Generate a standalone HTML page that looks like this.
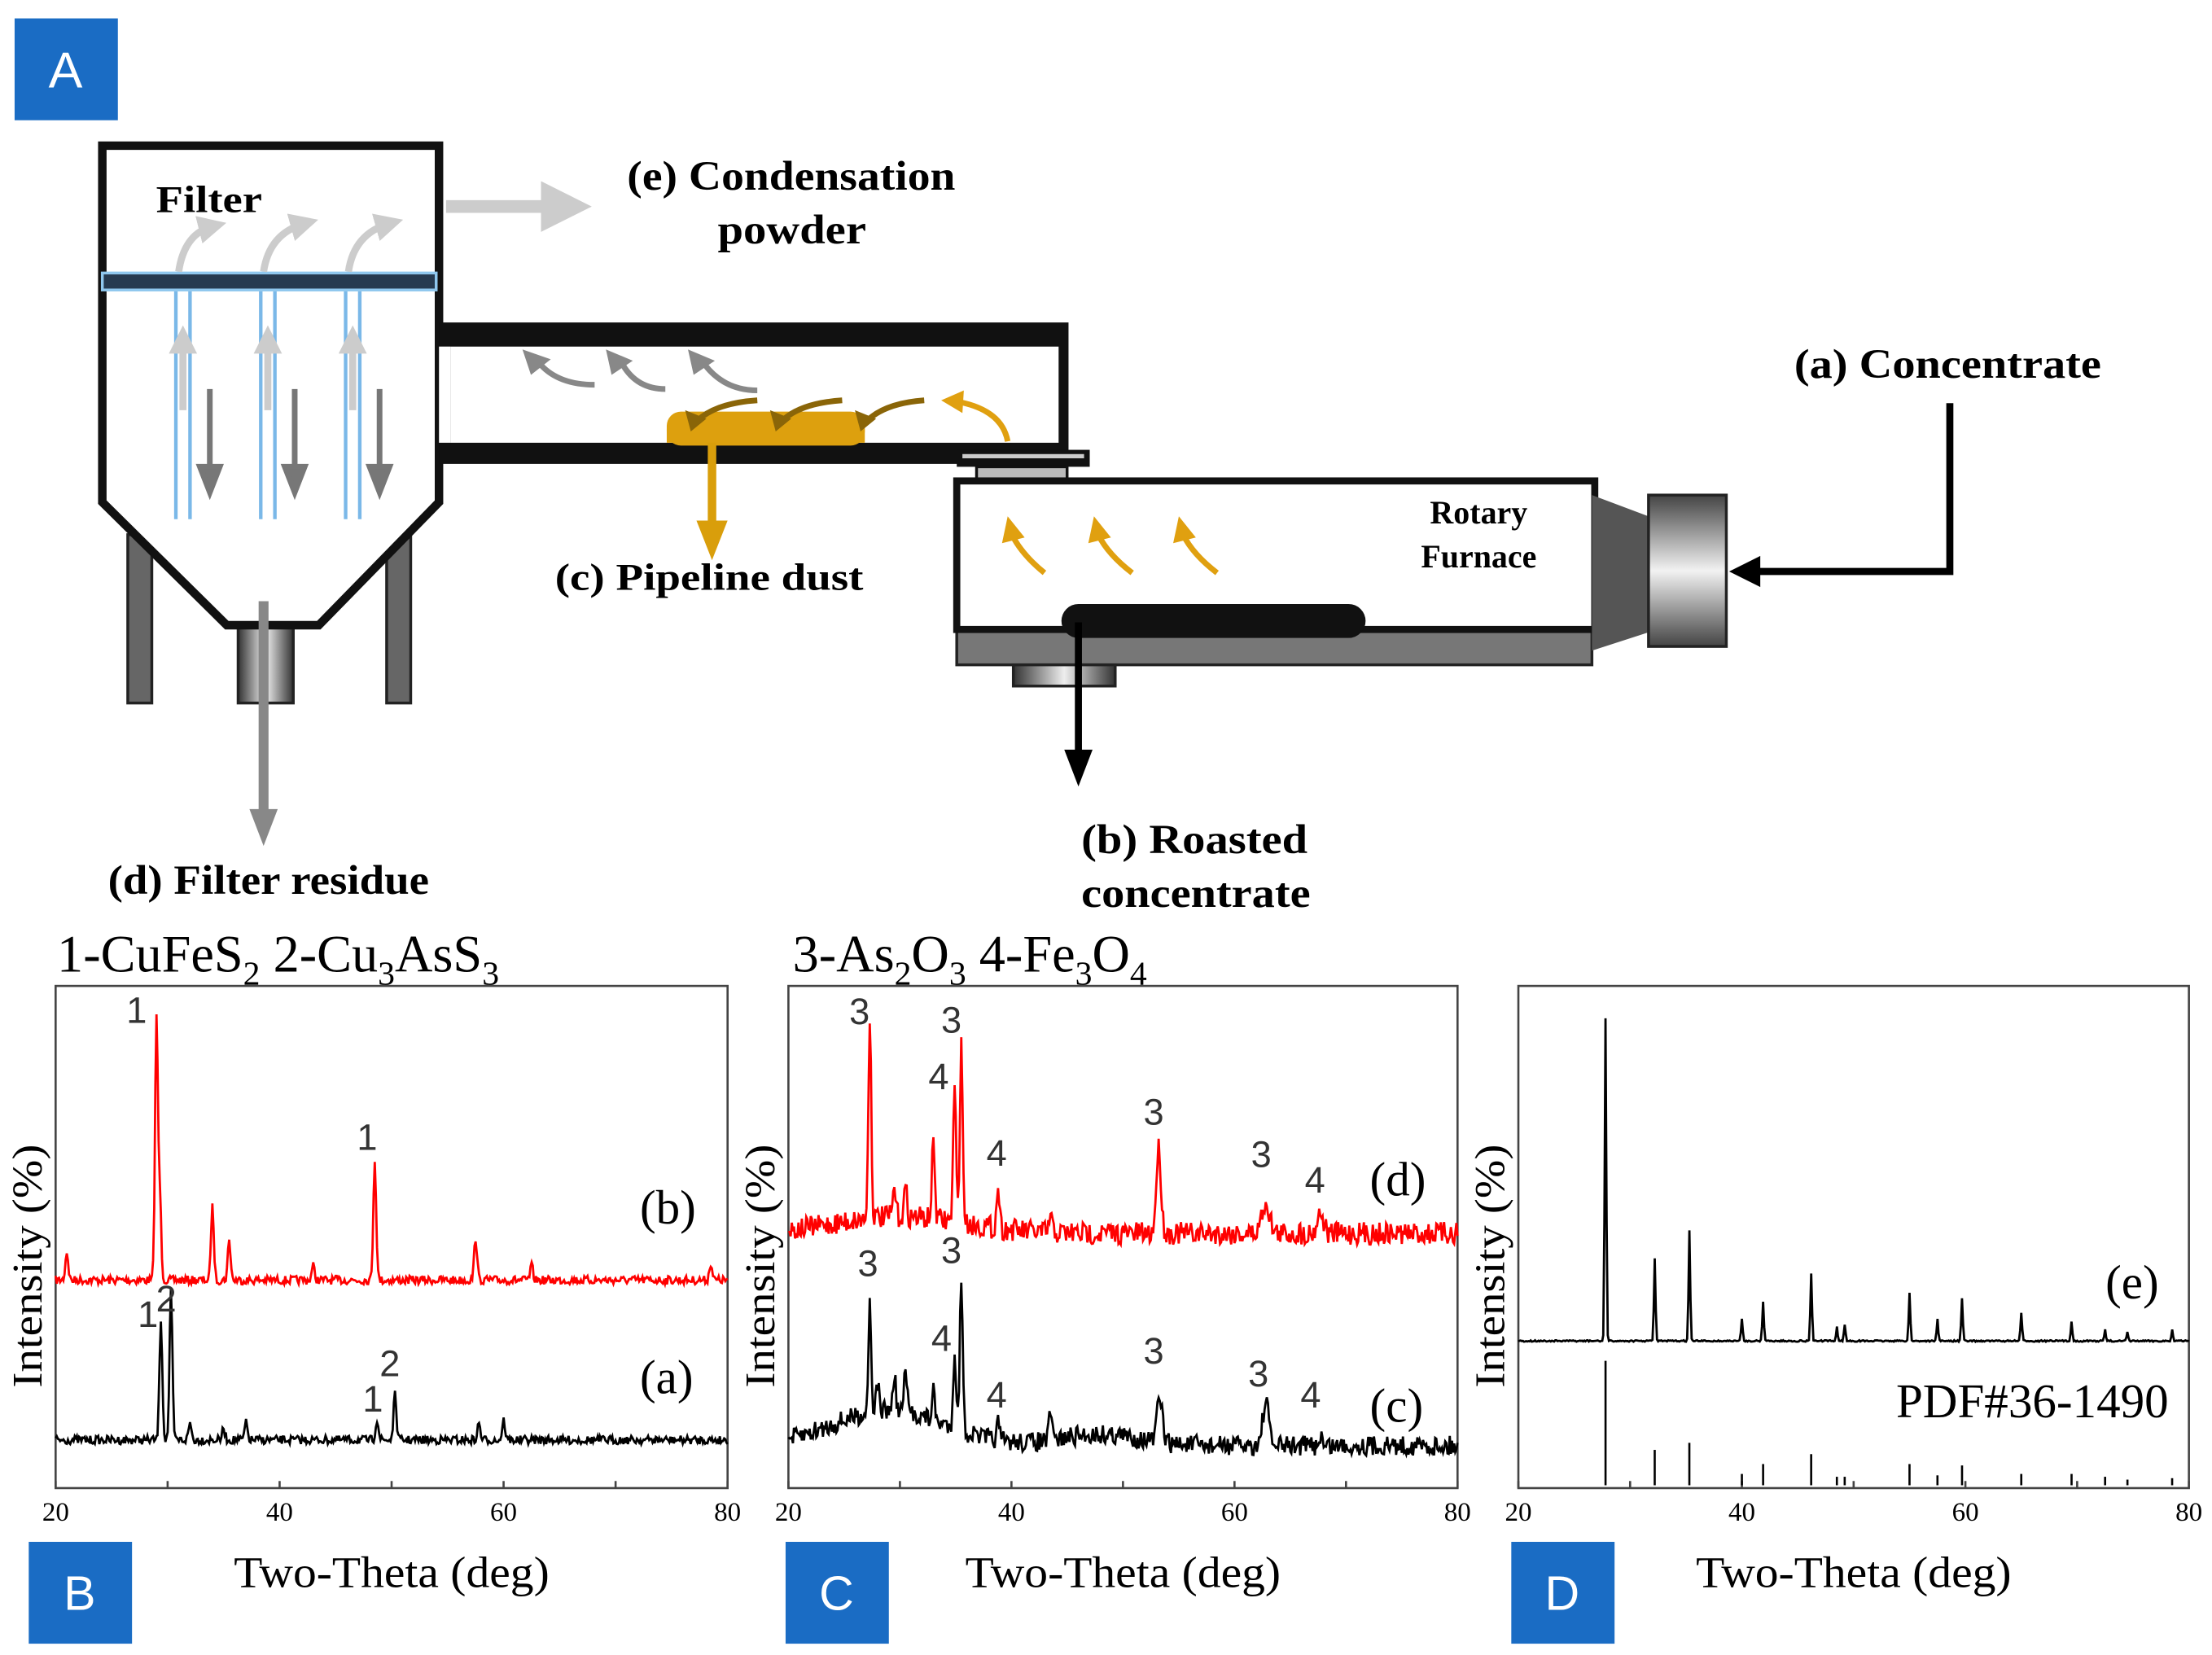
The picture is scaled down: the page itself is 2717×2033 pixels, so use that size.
<!DOCTYPE html>
<html><head><meta charset="utf-8">
<style>
html,body{margin:0;padding:0;background:#fff;}
svg{display:block;}
.sf{font-family:"Liberation Serif",serif;}
.b{font-weight:bold;}
</style></head>
<body>
<svg id="s" width="2717" height="2033" viewBox="0 0 1563 1170" xmlns="http://www.w3.org/2000/svg">
<defs>
<linearGradient id="cyl" x1="0" y1="0" x2="1" y2="0">
<stop offset="0" stop-color="#333"/><stop offset="0.5" stop-color="#eee"/><stop offset="1" stop-color="#333"/></linearGradient>
<linearGradient id="cylv" x1="0" y1="0" x2="0" y2="1">
<stop offset="0" stop-color="#444"/><stop offset="0.5" stop-color="#f2f2f2"/><stop offset="1" stop-color="#444"/></linearGradient>
<marker id="ag" markerWidth="4" markerHeight="4" refX="2" refY="2" orient="auto" markerUnits="strokeWidth"><path d="M0,0 L4,2 L0,4z" fill="#ccc"/></marker>
</defs>
<rect x="10" y="13" width="73" height="72" fill="#1a6cc4"/>
<text x="46" y="62" text-anchor="middle" font-family="Liberation Sans" font-size="36" fill="#fff">A</text>

<rect x="90" y="378" width="17" height="119" fill="#666" stroke="#222" stroke-width="2"/>
<rect x="273" y="378" width="17" height="119" fill="#666" stroke="#222" stroke-width="2"/>
<rect x="168" y="442" width="39" height="55" fill="url(#cyl)" stroke="#222" stroke-width="2"/>
<path d="M72,103 L310,103 L310,355 L225,442 L160,442 L72,355 Z" fill="#fff" stroke="#111" stroke-width="6"/>
<rect x="72" y="193" width="236" height="12" fill="#263a50" stroke="#8fc7ee" stroke-width="2"/>
<g stroke="#7ab8e8" stroke-width="2.5">
<line x1="124" y1="206" x2="124" y2="367"/><line x1="134" y1="206" x2="134" y2="367"/>
<line x1="184" y1="206" x2="184" y2="367"/><line x1="194" y1="206" x2="194" y2="367"/>
<line x1="244" y1="206" x2="244" y2="367"/><line x1="254" y1="206" x2="254" y2="367"/>
</g>
<g stroke="#ccc" stroke-width="5" fill="none">
<line x1="129" y1="290" x2="129" y2="240" marker-end="url(#ag)"/>
<line x1="189" y1="290" x2="189" y2="240" marker-end="url(#ag)"/>
<line x1="249" y1="290" x2="249" y2="240" marker-end="url(#ag)"/>
<path d="M126,192 Q130,165 150,160" marker-end="url(#ag)"/>
<path d="M186,192 Q190,165 215,158" marker-end="url(#ag)"/>
<path d="M246,192 Q250,165 275,158" marker-end="url(#ag)"/>
<line x1="315" y1="146" x2="400" y2="146" stroke-width="9" marker-end="url(#ag)"/>
</g>
<g stroke="#777" stroke-width="4" fill="none">
<line x1="148" y1="275" x2="148" y2="335"/><path d="M141,330 L148,348 L155,330z" fill="#777"/>
<line x1="208" y1="275" x2="208" y2="335"/><path d="M201,330 L208,348 L215,330z" fill="#777"/>
<line x1="268" y1="275" x2="268" y2="335"/><path d="M261,330 L268,348 L275,330z" fill="#777"/>
</g>
<line x1="186" y1="425" x2="186" y2="575" stroke="#888" stroke-width="7"/>
<path d="M176,572 L186,598 L196,572z" fill="#888"/>
<text x="110" y="150" class="sf b" font-size="27" textLength="75" lengthAdjust="spacingAndGlyphs">Filter</text>

<path d="M310,228 L755,228 L755,328 L310,328 Z M318,245 L748,245 L748,313 L318,313 Z" fill="#111" fill-rule="evenodd"/>
<rect x="310" y="245" width="8" height="68" fill="#fff"/>
<g stroke="#888" stroke-width="4" fill="none">
<path d="M420,272 Q395,272 382,258"/>
<path d="M470,275 Q450,275 440,258"/>
<path d="M535,276 Q512,276 498,258"/>
</g>
<path d="M369,247 L375,265 L389,254z" fill="#888"/>
<path d="M428,247 L432,265 L447,255z" fill="#888"/>
<path d="M486,247 L490,265 L505,255z" fill="#888"/>
<rect x="471" y="291" width="140" height="24" rx="10" fill="#dda00e"/>
<rect x="471" y="303" width="140" height="10" fill="#dda00e"/>
<g stroke="#8a6508" stroke-width="4" fill="none">
<path d="M535,283 Q505,285 492,298"/>
<path d="M595,283 Q565,285 552,298"/>
<path d="M653,283 Q625,285 612,298"/>
</g>
<path d="M484,290 L488,305 L499,296z" fill="#8a6508"/>
<path d="M544,290 L548,305 L559,296z" fill="#8a6508"/>
<path d="M604,290 L608,305 L619,296z" fill="#8a6508"/>
<path d="M712,312 Q708,290 677,284" stroke="#e0a010" stroke-width="4" fill="none"/>
<path d="M665,283 L681,276 L680,292z" fill="#e0a010"/>
<line x1="503" y1="313" x2="503" y2="372" stroke="#d99e0b" stroke-width="6"/>
<path d="M492,368 L503,396 L514,368z" fill="#d99e0b"/>
<text x="392" y="417" class="sf b" font-size="27" textLength="218" lengthAdjust="spacingAndGlyphs">(c) Pipeline dust</text>

<rect x="676" y="318" width="94" height="12" fill="#111"/>
<rect x="680" y="321" width="86" height="3" fill="#ccc"/>
<rect x="690" y="330" width="64" height="12" fill="#bbb" stroke="#111" stroke-width="2"/>
<rect x="676" y="445" width="449" height="25" fill="#777" stroke="#222" stroke-width="2"/>
<rect x="716" y="470" width="72" height="15" fill="url(#cyl)" stroke="#222" stroke-width="2"/>
<rect x="676" y="340" width="451" height="105" fill="#fff" stroke="#111" stroke-width="5"/>
<path d="M1125,350 L1165,365 L1165,447 L1125,460 Z" fill="#555"/>
<rect x="1165" y="350" width="55" height="107" fill="url(#cylv)" stroke="#222" stroke-width="2"/>
<rect x="750" y="427" width="215" height="24" rx="12" fill="#111"/>
<line x1="762" y1="440" x2="762" y2="535" stroke="#000" stroke-width="5"/>
<path d="M752,530 L762,556 L772,530z" fill="#000"/>
<g stroke="#e0a010" stroke-width="4" fill="none">
<path d="M738,405 Q722,392 715,378"/>
<path d="M800,405 Q783,392 776,378"/>
<path d="M860,405 Q843,392 836,378"/>
</g>
<path d="M708,384 L712,365 L724,380z" fill="#e0a010"/>
<path d="M769,384 L773,365 L785,380z" fill="#e0a010"/>
<path d="M829,384 L833,365 L845,380z" fill="#e0a010"/>
<text x="1045" y="370" text-anchor="middle" class="sf b" font-size="23">Rotary</text>
<text x="1045" y="401" text-anchor="middle" class="sf b" font-size="23">Furnace</text>
<path d="M1378,285 L1378,404 L1240,404" stroke="#000" stroke-width="5" fill="none"/>
<path d="M1244,393 L1222,404 L1244,415z" fill="#000"/>
<text x="1268" y="267" class="sf b" font-size="29" textLength="217" lengthAdjust="spacingAndGlyphs">(a) Concentrate</text>
<text x="443" y="134" class="sf b" font-size="29" textLength="232" lengthAdjust="spacingAndGlyphs">(e) Condensation</text>
<text x="507" y="172" class="sf b" font-size="29" textLength="105" lengthAdjust="spacingAndGlyphs">powder</text>
<text x="764" y="603" class="sf b" font-size="29" textLength="160" lengthAdjust="spacingAndGlyphs">(b) Roasted</text>
<text x="764" y="641" class="sf b" font-size="29" textLength="162" lengthAdjust="spacingAndGlyphs">concentrate</text>
<text x="76" y="632" class="sf b" font-size="29" textLength="227" lengthAdjust="spacingAndGlyphs">(d) Filter residue</text>

<text x="40" y="687" class="sf" font-size="37">1-CuFeS<tspan font-size="24" dy="9">2</tspan><tspan dy="-9"> 2-Cu</tspan><tspan font-size="24" dy="9">3</tspan><tspan dy="-9">AsS</tspan><tspan font-size="24" dy="9">3</tspan></text>
<text x="560" y="687" class="sf" font-size="37">3-As<tspan font-size="24" dy="9">2</tspan><tspan dy="-9">O</tspan><tspan font-size="24" dy="9">3</tspan><tspan dy="-9"> 4-Fe</tspan><tspan font-size="24" dy="9">3</tspan><tspan dy="-9">O</tspan><tspan font-size="24" dy="9">4</tspan></text>

<g id="charts"></g>
</svg>
<script>
(function(){
var NS="http://www.w3.org/2000/svg",g=document.getElementById("charts");
var seed=7;function rnd(){seed=(seed*16807)%2147483647;return seed/2147483647;}
function el(t,a,txt){var e=document.createElementNS(NS,t);for(var k in a)e.setAttribute(k,a[k]);if(txt!=null)e.textContent=txt;g.appendChild(e);return e;}
var panels=[{x0:39,x1:514,L:"B",lx:20},{x0:557,x1:1030,L:"C",lx:555},{x0:1073,x1:1547,L:"D",lx:1068}];
var y0=697,y1=1052;
panels.forEach(function(p){
 el("rect",{x:p.x0,y:y0,width:p.x1-p.x0,height:y1-y0,fill:"none",stroke:"#444","stroke-width":1.5});
 for(var t=20;t<=80;t+=10){var x=p.x0+(t-20)*(p.x1-p.x0)/60;el("line",{x1:x,y1:y1,x2:x,y2:y1-5,stroke:"#444","stroke-width":1.5});
  if(t%20==0)el("text",{x:x,y:1075,"text-anchor":"middle","font-family":"Liberation Serif","font-size":19},t);}
 el("text",{x:(p.x0+p.x1)/2,y:1122,"text-anchor":"middle","font-family":"Liberation Serif","font-size":31,textLength:223,lengthAdjust:"spacingAndGlyphs"},"Two-Theta (deg)");
 el("text",{x:0,y:0,"text-anchor":"middle","font-family":"Liberation Serif","font-size":30,textLength:172,lengthAdjust:"spacingAndGlyphs",transform:"translate("+(p.x0-10)+",895) rotate(-90)"},"Intensity (%)");
 el("rect",{x:p.lx,y:1090,width:73,height:72,fill:"#1a6cc4"});
 el("text",{x:p.lx+36,y:1138,"text-anchor":"middle","font-family":"Liberation Sans","font-size":34,fill:"#fff"},p.L);
});
function spec(p,base,noise,peaks,col,hump){
 var d="",n=600;
 for(var i=0;i<=n;i++){var t=20+60*i/n,y=base+(rnd()-0.5)*noise;
  if(hump)y-=hump(t);
  peaks.forEach(function(k){var w=k[2]||0.18;y-=k[1]*Math.exp(-Math.pow((t-k[0])/w,2));});
  var x=p.x0+(t-20)*(p.x1-p.x0)/60;d+=(i?"L":"M")+x.toFixed(1)+","+y.toFixed(1);}
 el("path",{d:d,fill:"none",stroke:col,"stroke-width":1.6});
}
var B=panels[0],C=panels[1],D=panels[2];
spec(B,905,6,[[21,20],[29,185],[29.3,60],[34,52],[35.5,28],[43,10],[48.5,85],[57.5,30],[62.5,10],[78.5,12]],"#f00");
spec(B,1018,6,[[29.4,85],[30.3,105],[32,12],[35,8],[37,12],[48.7,15],[50.3,32],[57.8,12],[60,14]],"#000");
spec(C,872,16,[[27.3,145],[29.5,20],[30.5,20],[33,55],[34.9,95],[35.5,125],[38.8,30],[43.5,12],[53.2,60,0.3],[62.8,22,0.5],[67.7,15,0.4]],"#f00",function(t){return 12*Math.exp(-Math.pow((t-30)/8,2));});
spec(C,1022,14,[[27.3,78],[28,20],[29.5,25],[30.5,30],[33,20],[34.9,55],[35.5,110],[38.8,12],[43.5,20],[53.3,30,0.35],[62.8,30,0.4],[67.7,8]],"#000",function(t){return 25*Math.exp(-Math.pow((t-29)/7,2))+8*Math.exp(-Math.pow((t-48)/5,2));});
var dp=[[27.8,228],[32.2,58],[35.3,78],[40,16],[41.9,28],[46.2,48],[48.5,10],[49.2,12],[55,34],[57.5,16],[59.7,30],[65,20],[69.5,14],[72.5,8],[74.5,6],[78.5,8]];
spec(D,948,1,dp.map(function(k){return [k[0],k[1],0.1];}),"#000");
var dz=1050,sc={27.8:88,32.2:25,35.3:30,40:8,41.9:15,46.2:22,48.5:6,49.2:6,55:15,57.5:7,59.7:14,65:8,69.5:8,72.5:6,74.5:4,78.5:5};
for(var k in sc){var x=D.x0+(k-20)*(D.x1-D.x0)/60;el("line",{x1:x,y1:dz,x2:x,y2:dz-sc[k],stroke:"#000","stroke-width":1.5});}
var T=function(x,y,s,fs){el("text",{x:x,y:y,"font-family":"Liberation Sans","font-size":fs||26,fill:"#333"},s);};
var S=function(x,y,s){el("text",{x:x,y:y,"font-family":"Liberation Serif","font-size":34},s);};
T(89,723,"1");T(252,813,"1");T(97,938,"1");T(110,927,"2");T(256,998,"1");T(268,973,"2");
S(452,865,"(b)");S(452,985,"(a)");
T(600,724,"3");T(665,730,"3");T(656,770,"4");T(697,824,"4");T(808,795,"3");T(884,825,"3");T(922,843,"4");
T(606,902,"3");T(665,893,"3");T(658,955,"4");T(697,995,"4");T(808,964,"3");T(882,980,"3");T(919,995,"4");
S(968,845,"(d)");S(968,1005,"(c)");
S(1488,918,"(e)");S(1340,1002,"PDF#36-1490");
})();
</script>
</body></html>
